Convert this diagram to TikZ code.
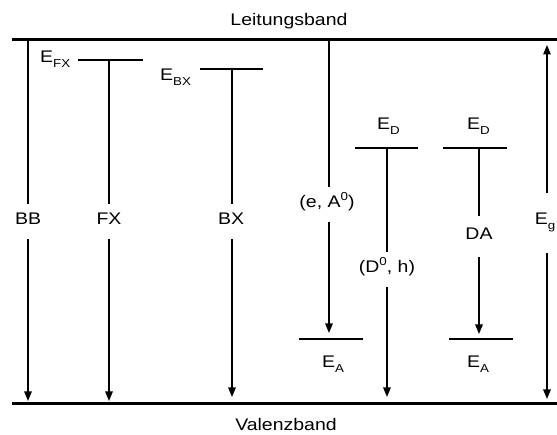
\documentclass[tikz,border=0pt]{standalone}
\usepackage{fontspec}
\setmainfont[FakeStretch=1.16]{Liberation Sans}
\usetikzlibrary{arrows.meta}
\newcommand\lowidx[1]{\raisebox{-0.28em}{\fontsize{11.5}{12}\selectfont #1}}
\newcommand\highidx[1]{\raisebox{0.42em}{\fontsize{11.5}{12}\selectfont #1}}
\tikzset{
  band/.style={line width=3pt},
  level/.style={line width=2.6pt},
  trans/.style={line width=1.3pt, -{Triangle[length=9.5pt,width=7.5pt]}},
  both/.style={line width=1.3pt, {Triangle[length=9.5pt,width=7.5pt]}-{Triangle[length=9.5pt,width=7.5pt]}},
  lbl/.style={font=\fontsize{16.8}{18}\selectfont, inner sep=0pt},
  gap/.style={lbl, fill=white, text height=12pt, text depth=5pt, inner ysep=9pt, inner xsep=2pt}
}
\begin{document}
\begin{tikzpicture}[x=1pt,y=-1pt]
\useasboundingbox (0,0) rectangle (557,435);

% bands
\coordinate (cbL) at (12,40);  \coordinate (cbR) at (557,40);
\coordinate (vbL) at (12,404); \coordinate (vbR) at (557,404);
\draw[band] (cbL) -- (cbR);
\draw[band] (vbL) -- (vbR);
\node[lbl, anchor=base] (lb) at (289,26) {Leitungsband};
\node[lbl, anchor=base] (vb) at (286,431) {Valenzband};

% levels
\coordinate (fxL) at (78,60);   \coordinate (fxR) at (143,60);
\coordinate (bxL) at (200,69);  \coordinate (bxR) at (263,69);
\coordinate (d1L) at (355,148); \coordinate (d1R) at (418,148);
\coordinate (d2L) at (443,148); \coordinate (d2R) at (507,148);
\coordinate (a1L) at (299,339); \coordinate (a1R) at (363,339);
\coordinate (a2L) at (449,339); \coordinate (a2R) at (513,339);
\foreach \l in {fx,bx,d1,d2,a1,a2} \draw[level] (\l L) -- (\l R);

\node[lbl, anchor=base west] (efx) at (40,63) {E\lowidx{FX}};
\node[lbl, anchor=base west] (ebx) at (160,81) {E\lowidx{BX}};
\node[lbl, anchor=base west] (ed1) at (377,130) {E\lowidx{D}};
\node[lbl, anchor=base west] (ed2) at (467,130) {E\lowidx{D}};
\node[lbl, anchor=base west] (ea1) at (322,368) {E\lowidx{A}};
\node[lbl, anchor=base west] (ea2) at (467,368) {E\lowidx{A}};

% transition end points
\coordinate (bbT) at (28,41.5);  \coordinate (bbB) at (28,401);
\coordinate (fxT) at (109,60);   \coordinate (fxB) at (109,401);
\coordinate (bxT) at (232,69);   \coordinate (bxB) at (232,397);
\coordinate (eaT) at (329,41.5); \coordinate (eaB) at (329,333);
\coordinate (dhT) at (387,148);  \coordinate (dhB) at (387,397);
\coordinate (daT) at (479,148);  \coordinate (daB) at (479,334);
\coordinate (egT) at (547,45);   \coordinate (egB) at (547,399);

\draw[trans] (bbT) -- (bbB);
\draw[trans] (fxT) -- (fxB);
\draw[trans] (bxT) -- (bxB);
\draw[trans] (eaT) -- (eaB);
\draw[trans] (dhT) -- (dhB);
\draw[trans] (daT) -- (daB);
\draw[both] (egT) -- (egB);

% transition labels
\node[gap, anchor=base] (bb) at (28,225) {BB};
\node[gap, anchor=base] (fx) at (109,225) {FX};
\node[gap, anchor=base] (bx) at (231,225) {BX};
\node[gap, anchor=base] (ea) at (327,208) {(e, A\highidx{0})};
\node[gap, anchor=base] (dh) at (387,273) {(D\highidx{0}, h)};
\node[gap, anchor=base, inner ysep=12pt] (da) at (479,240) {DA};
\node[gap, anchor=base, text depth=8pt, inner ysep=20pt] (eg) at (545,225) {E\lowidx{g}};
\end{tikzpicture}
\end{document}
